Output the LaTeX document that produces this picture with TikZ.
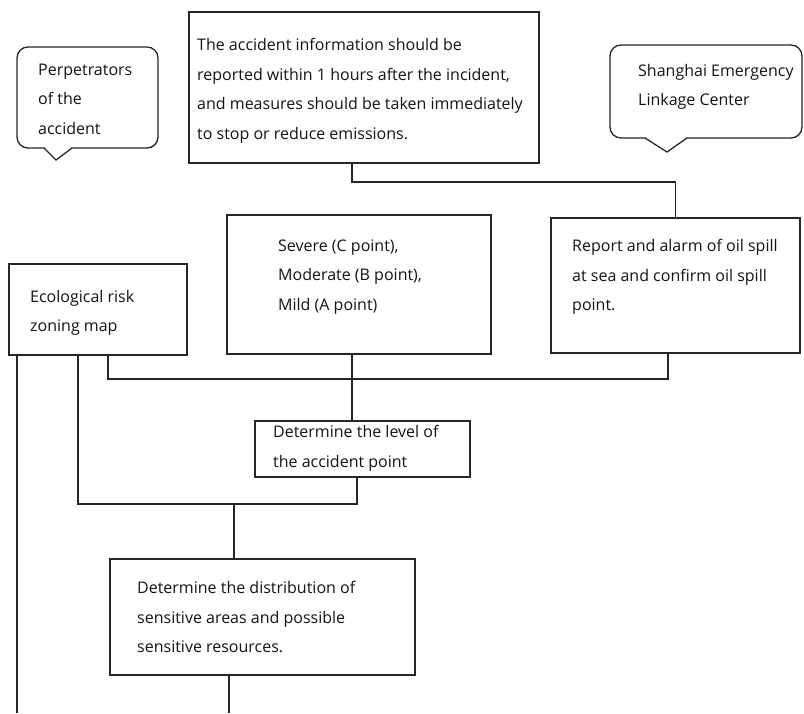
\documentclass[tikz,border=0pt]{standalone}
\usepackage{fontspec}
\setmainfont{Open Sans}
\begin{document}
\begin{tikzpicture}[x=1pt,y=-1pt,
  box/.style={draw=black!85, line width=1.3pt, inner sep=0pt, fill=white},
  bubble/.style={draw=black!85, line width=1.3pt, inner sep=0pt, fill=white, rounded corners=11pt},
  txt/.style={anchor=west, align=left, inner sep=0pt, font=\fontsize{16}{29.5}\selectfont, text=black!92},
  conn/.style={draw=black!85, line width=1.3pt}]
\useasboundingbox (0,0) rectangle (804,713);

% boxes
\node[box, minimum width=350pt, minimum height=151pt] (top) at (364,87.5) {};
\node[box, minimum width=264pt, minimum height=139pt] (sev) at (359,284.5) {};
\node[box, minimum width=249pt, minimum height=135pt] (rep) at (675.5,285.5) {};
\node[box, minimum width=178pt, minimum height=91pt] (eco) at (98,309.5) {};
\node[box, minimum width=215pt, minimum height=56pt] (lvl) at (362.5,449) {};
\node[box, minimum width=305pt, minimum height=116pt] (dist) at (262.5,617) {};

% callouts
\node[bubble, minimum width=141pt, minimum height=101pt] (perp) at (87.5,97.5) {};
\fill[white] (44.8,146.5) rectangle (71.2,149.5);
\draw[conn, line join=miter] (44,148) -- (56,160) -- (72,148);
\node[bubble, minimum width=192pt, minimum height=93pt] (sh) at (706,91.5) {};
\fill[white] (645.8,136.5) rectangle (686.2,139.5);
\draw[conn, line join=miter] (645,138) -- (667,152) -- (687,138);

% texts
\node[txt] (toptext) at (197,91) {The accident information should be\\reported within 1 hours after the incident,\\and measures should be taken immediately\\to stop or reduce emissions.};
\node[txt] (perptext) at (38,99) {Perpetrators\\of the\\accident};
\node[txt] (shtext) at (638,87) {Shanghai Emergency\\Linkage Center};
\node[txt] (sevtext) at (278,277) {Severe (C point),\\Moderate (B point),\\Mild (A point)};
\node[txt] (reptext) at (572,277) {Report and alarm of oil spill\\at sea and confirm oil spill\\point.};
\node[txt] (ecotext) at (30,313) {Ecological risk\\zoning map};
\node[txt] (lvltext) at (273,448.5) {Determine the level of\\the accident point};
\node[txt] (disttext) at (137,617) {Determine the distribution of\\sensitive areas and possible\\sensitive resources.};

% connectors
\coordinate (j1) at (352,182);
\draw[conn] (top.south -| j1) -- (j1) -- (j1 -| rep.north) -- (rep.north);
\coordinate (j2) at (352,379);
\draw[conn] (sev.south -| j2) -- (lvl.north -| j2);
\coordinate (h1) at (108,379);
\coordinate (h2) at (668,379);
\draw[conn] (h1 |- eco.south) -- (h1) -- (h2) -- (h2 |- rep.south);
\coordinate (l1) at (17,713);
\draw[conn] (l1 |- eco.south) -- (l1);
\coordinate (j3) at (78,504);
\coordinate (j4) at (357,504);
\draw[conn] (j3 |- eco.south) -- (j3) -- (j4) -- (j4 |- lvl.south);
\coordinate (j5) at (234,504);
\draw[conn] (j5) -- (j5 |- dist.north);
\coordinate (e1) at (229,713);
\draw[conn] (e1 |- dist.south) -- (e1);
\end{tikzpicture}
\end{document}
